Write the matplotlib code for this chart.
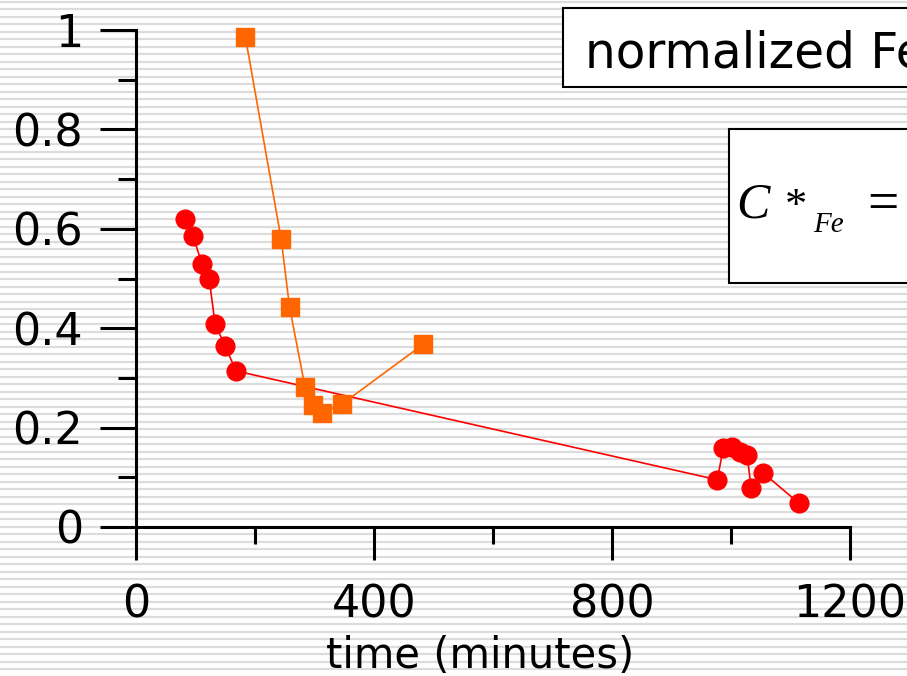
import numpy as np
import matplotlib.pyplot as plt
from matplotlib.patches import Rectangle

# Fe normalisé en fonction du temps
red_t = [82, 96, 111, 123, 133, 150, 168, 977, 987, 1002, 1015, 1027, 1034, 1054, 1114]
red_c = [0.620, 0.585, 0.529, 0.499, 0.408, 0.364, 0.314, 0.095, 0.159, 0.161,
         0.151, 0.145, 0.078, 0.109, 0.048]

orange_t = [184, 244, 258, 284, 297, 313, 346, 483]
orange_c = [0.985, 0.579, 0.443, 0.282, 0.245, 0.230, 0.247, 0.368]

xticks = [0, 400, 800, 1200]
xtick_labels = ['0', '400', '800', '1200']
yticks = [0, 0.2, 0.4, 0.6, 0.8, 1]
ytick_labels = ['0', '0.2', '0.4', '0.6', '0.8', '1']

W, H = 907, 676
fig = plt.figure(figsize=(W / 100, H / 100), dpi=100)


def px(x, y):
    return x / W, 1 - y / H


# fond rayé
bg = fig.add_axes([0, 0, 1, 1], zorder=-5)
bg.set_xlim(0, W)
bg.set_ylim(H, 0)
bg.axis('off')
for yy in np.arange(1.5, H, 7.5):
    bg.axhline(yy, color='#dcdcdc', lw=1.6)

ax = fig.add_axes([136 / W, 149 / H, 714 / W, 497 / H])
ax.set_facecolor('none')

ax.plot(red_t, red_c, '-', color='#ff0000', lw=1.2, marker='o', ms=13.5,
        mec='#ff0000', mfc='#ff0000', clip_on=False, zorder=3)
ax.plot(orange_t, orange_c, '-', color='#ff6600', lw=1.2, marker='s', ms=13,
        mec='#ff6600', mfc='#ff6600', clip_on=False, zorder=4)

ax.set_xlim(0, 1200)
ax.set_ylim(0, 1)
ax.set_xticks(xticks)
ax.set_xticklabels(xtick_labels)
ax.set_xticks([200, 600, 1000], minor=True)
ax.set_yticks(yticks)
ax.set_yticklabels(ytick_labels)
ax.set_yticks([0.1, 0.3, 0.5, 0.7, 0.9], minor=True)

for s in ['top', 'right']:
    ax.spines[s].set_visible(False)
for s in ['left', 'bottom']:
    ax.spines[s].set_linewidth(2.2)

ax.tick_params(axis='x', which='major', direction='out', length=24, width=2.2,
               pad=17, labelsize=32)
ax.tick_params(axis='x', which='minor', direction='out', length=12, width=2.2)
ax.tick_params(axis='y', which='major', direction='out', length=26, width=2.2,
               pad=12, labelsize=32)
ax.tick_params(axis='y', which='minor', direction='out', length=13, width=2.2)

# titre de l'axe x
fig.text(*px(480, 668), 'time (minutes)', fontsize=30, ha='center', va='baseline')

# encadrés
x0, y0 = px(563, 87)
fig.add_artist(Rectangle((x0, y0), 0.6, 79 / H, transform=fig.transFigure,
                         facecolor='white', edgecolor='black', lw=1.5, zorder=5))
fig.text(*px(585, 67), 'normalized Fe', fontsize=35, family='DejaVu Sans',
         va='baseline', ha='left', zorder=6)

x1, y1 = px(729, 283)
fig.add_artist(Rectangle((x1, y1), 0.6, 154 / H, transform=fig.transFigure,
                         facecolor='white', edgecolor='black', lw=1.5, zorder=5))
serif = 'Liberation Serif'
fig.text(*px(736, 218), 'C', fontsize=36, family=serif, style='italic',
         va='baseline', zorder=6)
fig.text(*px(785, 218), '*', fontsize=32, family=serif, va='baseline', zorder=6)
fig.text(*px(813, 232), 'Fe', fontsize=21, family=serif, style='italic',
         va='baseline', zorder=6)
fig.text(*px(867, 220), '=', fontsize=40, family=serif, va='baseline', zorder=6)

plt.savefig('out.png', dpi=100)
